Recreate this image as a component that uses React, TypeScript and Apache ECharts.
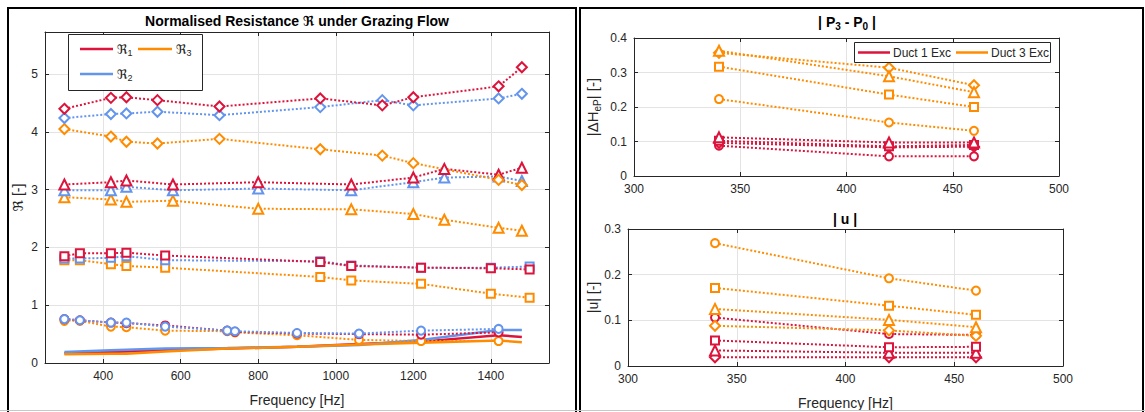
import React, { useEffect, useRef } from "react";
import * as echarts from "echarts";

// ---------- data ----------
const RED = "#DC143C";
const ORANGE = "#FF8C00";
const BLUE = "#6495ED";

// Left chart: normalised resistance
const freqDiamond = [300, 420, 460, 540, 700, 960, 1120, 1200, 1420, 1480];
const r1Diamond = [4.4, 4.59, 4.6, 4.55, 4.44, 4.58, 4.46, 4.6, 4.79, 5.12];
const r2Diamond = [4.24, 4.31, 4.32, 4.35, 4.29, 4.43, 4.55, 4.46, 4.58, 4.66];
const r3Diamond = [4.05, 3.92, 3.83, 3.8, 3.88, 3.7, 3.59, 3.46, 3.17, 3.08];

const freqTriangle = [300, 420, 460, 580, 800, 1040, 1200, 1280, 1420, 1480];
const r1Triangle = [3.09, 3.13, 3.16, 3.09, 3.13, 3.09, 3.21, 3.36, 3.26, 3.38];
const r2Triangle = [2.99, 2.99, 3.05, 2.99, 3.02, 2.99, 3.13, 3.21, 3.23, 3.15];
const r3Triangle = [2.87, 2.83, 2.79, 2.81, 2.67, 2.66, 2.58, 2.48, 2.34, 2.29];

const freqSquare = [300, 340, 420, 460, 560, 960, 1040, 1220, 1400, 1500];
const r1Square = [1.85, 1.9, 1.9, 1.91, 1.86, 1.75, 1.68, 1.65, 1.64, 1.62];
const r2Square = [1.81, 1.81, 1.82, 1.85, 1.78, 1.76, 1.69, 1.65, 1.65, 1.67];
const r3Square = [1.78, 1.78, 1.71, 1.68, 1.65, 1.49, 1.43, 1.37, 1.2, 1.13];

const freqCircle = [300, 340, 420, 460, 560, 720, 740, 900, 1060, 1220, 1420];
const r1Circle = [0.76, 0.74, 0.7, 0.69, 0.65, 0.56, 0.54, 0.51, 0.5, 0.49, 0.53];
const r2Circle = [0.76, 0.74, 0.7, 0.7, 0.63, 0.56, 0.55, 0.52, 0.51, 0.56, 0.59];
const r3Circle = [0.73, 0.73, 0.63, 0.62, 0.56, 0.55, 0.53, 0.48, 0.4, 0.38, 0.38];

const freqSolid = [300, 420, 460, 560, 720, 900, 1060, 1220, 1420, 1480];
const r1Solid = [0.17, 0.19, 0.2, 0.22, 0.25, 0.28, 0.33, 0.37, 0.48, 0.45];
const r2Solid = [0.19, 0.22, 0.23, 0.25, 0.26, 0.28, 0.31, 0.4, 0.57, 0.57];
const r3Solid = [0.15, 0.16, 0.16, 0.2, 0.25, 0.28, 0.32, 0.35, 0.39, 0.36];

// Right charts
const freqRight = [340, 420, 460];
// |P3 - P0|
const p1Triangle = [0.112, 0.097, 0.097];
const p1Square = [0.102, 0.086, 0.09];
const p1Diamond = [0.096, 0.083, 0.085];
const p1Circle = [0.088, 0.057, 0.057];
const p3Triangle = [0.363, 0.289, 0.243];
const p3Diamond = [0.357, 0.314, 0.263];
const p3Square = [0.317, 0.236, 0.2];
const p3Circle = [0.223, 0.155, 0.131];
// |u|
const u1Circle = [0.106, 0.07, 0.068];
const u1Square = [0.056, 0.041, 0.042];
const u1Triangle = [0.034, 0.029, 0.029];
const u1Diamond = [0.019, 0.019, 0.019];
const u3Circle = [0.269, 0.192, 0.165];
const u3Square = [0.171, 0.132, 0.112];
const u3Triangle = [0.125, 0.101, 0.085];
const u3Diamond = [0.088, 0.078, 0.066];

// ---------- styling helpers ----------
const AX = "#262626";
const GRID = "#e3e3e3";
const FONT = "'Liberation Sans', Arial, 'DejaVu Sans', sans-serif";

const SYM = {
  diamond: { symbol: "emptyDiamond", size: 10 },
  triangle: { symbol: "emptyTriangle", size: 10 },
  square: { symbol: "emptyRect", size: 8 },
  circle: { symbol: "emptyCircle", size: 8 },
};

function pairs(xs: number[], ys: number[]) {
  return xs.map((x, i) => [x, ys[i]]);
}

function dotted(name: string, xs: number[], ys: number[], color: string, shape: keyof typeof SYM, axisIdx: number) {
  return {
    type: "line",
    name,
    xAxisIndex: axisIdx,
    yAxisIndex: axisIdx,
    data: pairs(xs, ys),
    symbol: SYM[shape].symbol,
    symbolSize: SYM[shape].size,
    showSymbol: true,
    lineStyle: { color, width: 2, type: "dotted" },
    itemStyle: { color, borderColor: color, borderWidth: 2 },
    emphasis: { disabled: true },
  };
}

function solid(name: string, xs: number[], ys: number[], color: string) {
  return {
    type: "line",
    name,
    xAxisIndex: 0,
    yAxisIndex: 0,
    data: pairs(xs, ys),
    showSymbol: false,
    symbol: "none",
    lineStyle: { color, width: 2.5, type: "solid" },
    itemStyle: { color },
    emphasis: { disabled: true },
  };
}

const plain = (v: number) => String(Math.round(v * 1000) / 1000);

function xAxisPair(grid: number, min: number, max: number, extra: any, withName?: string, nameGap?: number) {
  const base = {
    type: "value",
    gridIndex: grid,
    min,
    max,
    ...extra,
    axisLine: { show: true, onZero: false, lineStyle: { color: AX, width: 1 } },
    axisTick: { show: true, inside: true, length: 4, lineStyle: { color: AX } },
  };
  return [
    {
      ...base,
      position: "bottom",
      axisLabel: {
        color: AX,
        fontSize: 12,
        fontFamily: FONT,
        margin: 7,
        formatter: plain,
        showMinLabel: extra.interval ? true : false,
        showMaxLabel: extra.interval ? true : false,
      },
      splitLine: { show: true, lineStyle: { color: GRID, width: 1 } },
      name: withName,
      nameLocation: "middle",
      nameGap,
      nameTextStyle: { color: AX, fontSize: 14, fontFamily: FONT },
    },
    {
      ...base,
      position: "top",
      axisLabel: { show: false },
      splitLine: { show: false },
    },
  ];
}

function yAxisPair(grid: number, min: number, max: number, extra: any, name: any, nameGap: number, fontSize: number, rich?: any) {
  const base = {
    type: "value",
    gridIndex: grid,
    min,
    max,
    ...extra,
    axisLine: { show: true, onZero: false, lineStyle: { color: AX, width: 1 } },
    axisTick: { show: true, inside: true, length: 4, lineStyle: { color: AX } },
  };
  return [
    {
      ...base,
      position: "left",
      axisLabel: { color: AX, fontSize: 12, fontFamily: FONT, margin: 7, formatter: plain, showMaxLabel: extra.showMax },
      splitLine: { show: true, lineStyle: { color: GRID, width: 1 } },
      name,
      nameLocation: "middle",
      nameGap,
      nameTextStyle: { color: AX, fontSize, fontFamily: FONT, rich },
    },
    {
      ...base,
      position: "right",
      axisLabel: { show: false },
      splitLine: { show: false },
    },
  ];
}

export default function App() {
  const ref = useRef<HTMLDivElement>(null);

  useEffect(() => {
    const chart = echarts.init(ref.current!, null, { renderer: "svg" });

    const xAxes = [
      ...xAxisPair(0, 250, 1550, { splitNumber: 6 }, "Frequency [Hz]", 30),
      ...xAxisPair(1, 300, 500, { interval: 50 }),
      ...xAxisPair(2, 300, 500, { interval: 50 }, "Frequency [Hz]", 30),
    ];
    const yAxes = [
      ...yAxisPair(0, 0, 5.73, { interval: 1, showMax: false }, "ℜ [-]", 20, 14),
      ...yAxisPair(1, 0, 0.4, { interval: 0.1, showMax: true }, "|ΔH{s|eP}| [-]", 32, 15, {
        s: { fontSize: 10, fontFamily: FONT, color: AX, padding: [9, 0, 0, 0] },
      }),
      ...yAxisPair(2, 0, 0.3, { interval: 0.1, showMax: true }, "|u| [-]", 28, 14),
    ];

    // grid g uses xAxis 2g and yAxis 2g
    const L = 0, U = 2, B = 4;

    const series: any[] = [
      solid("ℜ1", freqSolid, r1Solid, RED),
      solid("ℜ2", freqSolid, r2Solid, BLUE),
      solid("ℜ3", freqSolid, r3Solid, ORANGE),

      dotted("ℜ3 circle", freqCircle, r3Circle, ORANGE, "circle", L),
      dotted("ℜ1 circle", freqCircle, r1Circle, RED, "circle", L),
      dotted("ℜ2 circle", freqCircle, r2Circle, BLUE, "circle", L),

      dotted("ℜ3 square", freqSquare, r3Square, ORANGE, "square", L),
      dotted("ℜ2 square", freqSquare, r2Square, BLUE, "square", L),
      dotted("ℜ1 square", freqSquare, r1Square, RED, "square", L),

      dotted("ℜ3 triangle", freqTriangle, r3Triangle, ORANGE, "triangle", L),
      dotted("ℜ2 triangle", freqTriangle, r2Triangle, BLUE, "triangle", L),
      dotted("ℜ1 triangle", freqTriangle, r1Triangle, RED, "triangle", L),

      dotted("ℜ3 diamond", freqDiamond, r3Diamond, ORANGE, "diamond", L),
      dotted("ℜ2 diamond", freqDiamond, r2Diamond, BLUE, "diamond", L),
      dotted("ℜ1 diamond", freqDiamond, r1Diamond, RED, "diamond", L),

      dotted("P1 circle", freqRight, p1Circle, RED, "circle", U),
      dotted("P1 diamond", freqRight, p1Diamond, RED, "diamond", U),
      dotted("P1 square", freqRight, p1Square, RED, "square", U),
      dotted("P1 triangle", freqRight, p1Triangle, RED, "triangle", U),
      dotted("P3 circle", freqRight, p3Circle, ORANGE, "circle", U),
      dotted("P3 square", freqRight, p3Square, ORANGE, "square", U),
      dotted("P3 diamond", freqRight, p3Diamond, ORANGE, "diamond", U),
      dotted("P3 triangle", freqRight, p3Triangle, ORANGE, "triangle", U),

      dotted("u1 diamond", freqRight, u1Diamond, RED, "diamond", B),
      dotted("u1 triangle", freqRight, u1Triangle, RED, "triangle", B),
      dotted("u1 square", freqRight, u1Square, RED, "square", B),
      dotted("u1 circle", freqRight, u1Circle, RED, "circle", B),
      dotted("u3 diamond", freqRight, u3Diamond, ORANGE, "diamond", B),
      dotted("u3 triangle", freqRight, u3Triangle, ORANGE, "triangle", B),
      dotted("u3 square", freqRight, u3Square, ORANGE, "square", B),
      dotted("u3 circle", freqRight, u3Circle, ORANGE, "circle", B),
    ];

    const legendText = (x: number, y: number, text: string) => ({
      type: "text",
      x,
      y,
      style: {
        text,
        font: `13px ${FONT}`,
        fill: AX,
        verticalAlign: "middle",
        rich: { s: { fontSize: 9, fontFamily: FONT, fill: AX, padding: [8, 0, 0, 0] } },
      },
      z: 100,
    });
    const legendLine = (x1: number, x2: number, y: number, color: string) => ({
      type: "line",
      shape: { x1, y1: y, x2, y2: y },
      style: { stroke: color, lineWidth: 2.5 },
      z: 100,
    });

    const graphic: any[] = [
      // frames
      { type: "rect", shape: { x: 8, y: 8, width: 568, height: 420 }, style: { fill: "none", stroke: "#000", lineWidth: 2 }, z: 50 },
      { type: "rect", shape: { x: 580, y: 8, width: 563, height: 420 }, style: { fill: "none", stroke: "#000", lineWidth: 2 }, z: 50 },
      { type: "line", shape: { x1: 0, y1: 410.5, x2: 1145, y2: 410.5 }, style: { stroke: "#c8c8c8", lineWidth: 1 }, z: 51 },
      // titles
      {
        type: "text",
        x: 297,
        y: 20.5,
        style: { text: "Normalised Resistance ℜ under Grazing Flow", font: `bold 14px ${FONT}`, fill: "#000", align: "center", verticalAlign: "middle" },
        z: 100,
      },
      {
        type: "text",
        x: 847,
        y: 22,
        style: {
          text: "| P{s|3} - P{s|0} |",
          font: `bold 14px ${FONT}`,
          fill: "#000",
          align: "center",
          verticalAlign: "middle",
          rich: { s: { fontSize: 10, fontWeight: "bold", fontFamily: FONT, fill: "#000", padding: [8, 0, 0, 0] } },
        },
        z: 100,
      },
      {
        type: "text",
        x: 845,
        y: 219,
        style: { text: "| u |", font: `bold 14px ${FONT}`, fill: "#000", align: "center", verticalAlign: "middle" },
        z: 100,
      },
      // left legend
      { type: "rect", shape: { x: 68.5, y: 34.5, width: 134, height: 56 }, style: { fill: "#fff", stroke: AX, lineWidth: 1 }, z: 99 },
      legendLine(80, 113, 49, RED),
      legendText(117, 49, "ℜ{s|1}"),
      legendLine(138, 172, 49, ORANGE),
      legendText(176, 49, "ℜ{s|3}"),
      legendLine(80, 113, 74, BLUE),
      legendText(117, 74, "ℜ{s|2}"),
      // right legend
      { type: "rect", shape: { x: 854.5, y: 42.5, width: 196, height: 20 }, style: { fill: "#fff", stroke: AX, lineWidth: 1 }, z: 99 },
      legendLine(858, 890, 52.5, RED),
      { type: "text", x: 893, y: 53, style: { text: "Duct 1 Exc", font: `12px ${FONT}`, fill: AX, verticalAlign: "middle" }, z: 100 },
      legendLine(956, 988, 52.5, ORANGE),
      { type: "text", x: 991, y: 53, style: { text: "Duct 3 Exc", font: `12px ${FONT}`, fill: AX, verticalAlign: "middle" }, z: 100 },
    ];

    chart.setOption({
      animation: false,
      backgroundColor: "#fff",
      textStyle: { fontFamily: FONT },
      grid: [
        { left: 45, top: 32, width: 504, height: 336, backgroundColor: "#fff", show: true, borderWidth: 0 },
        { left: 634, top: 38, width: 425, height: 138, backgroundColor: "#fff", show: true, borderWidth: 0 },
        { left: 628, top: 229, width: 435, height: 137, backgroundColor: "#fff", show: true, borderWidth: 0 },
      ],
      xAxis: xAxes,
      yAxis: yAxes,
      series,
      graphic,
    });

    return () => chart.dispose();
  }, []);

  return <div ref={ref} style={{ position: "absolute", left: 0, top: 0, width: 1145, height: 412 }} />;
}
